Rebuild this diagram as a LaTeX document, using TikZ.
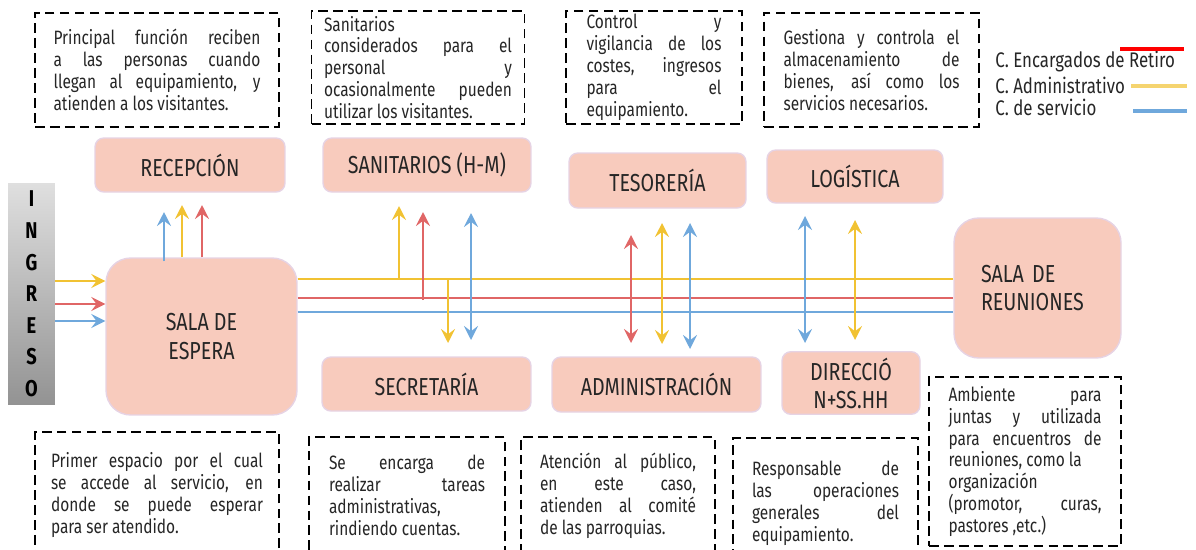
\documentclass[tikz,border=0pt]{standalone}
\usepackage{fontspec}
\setmainfont{Fira Sans}[FakeStretch=0.8]
\usepackage{xcolor}
\usepackage{tikz}
\usetikzlibrary{arrows.meta, positioning}
\definecolor{salmon}{HTML}{F8CBBD}
\definecolor{lila}{HTML}{E6D3E4}
\definecolor{ink}{HTML}{262626}
\definecolor{admin}{HTML}{F1C232}
\definecolor{retiro}{HTML}{E06666}
\definecolor{servicio}{HTML}{6FA8DC}
\tikzset{
  area/.style={draw=lila, line width=0.8pt, fill=salmon, rounded corners=5pt, text=ink, font=\fontsize{14}{16}\selectfont, align=center},
  bigarea/.style={area, rounded corners=14pt},
  note/.style={draw=black, dash pattern=on 5.5pt off 3pt, line width=1.1pt, text=ink, font=\fontsize{11}{12.5}\selectfont, inner sep=2pt, align=justify},
  adm/.style={draw=admin, line width=1.2pt},
  ret/.style={draw=retiro, line width=1.2pt},
  ser/.style={draw=servicio, line width=1.2pt},
}

\begin{document}
\begin{tikzpicture}[x=0.02cm, y=-0.02cm, >={Stealth[length=8pt,width=8pt,inset=3pt]}]
        \useasboundingbox (0,0) rectangle (1196,549);
        \clip (0,0) rectangle (1196,549);
        % descriptions (top)
        \node[note, minimum width=4.88cm, minimum height=2.28cm, text width=4.14cm] (drec) at (157,70) {Principal función reciben\linebreak a las personas cuando\linebreak llegan al equipamiento, y\linebreak atienden a los visitantes.};
        \node[note, minimum width=4.26cm, minimum height=2.26cm, text width=3.76cm] (dsan) at (418,67.5) {Sanitarios\\considerados para el\linebreak personal y\linebreak ocasionalmente pueden\linebreak utilizar los visitantes.};
        \node[note, minimum width=3.52cm, minimum height=2.26cm, text width=2.7cm] (dtes) at (654,67.5) {Control y\linebreak vigilancia de los\linebreak costes, ingresos\linebreak para el\linebreak equipamiento.};
        \node[note, minimum width=4.3cm, minimum height=2.28cm, text width=3.52cm] (dlog) at (871.5,70) {Gestiona y controla el\linebreak almacenamiento de\linebreak bienes, así como los\linebreak servicios necesarios.};
        % descriptions (bottom)
        \node[note, minimum width=4.88cm, minimum height=2.52cm, text width=4.24cm] (desp) at (157,495) {Primer espacio por el cual\linebreak se accede al servicio, en\linebreak donde se puede esperar\linebreak para ser atendido.};
        \node[note, minimum width=3.92cm, minimum height=2.34cm, text width=3.12cm] (dsec) at (407,495.5) {Se encarga de\linebreak realizar tareas\linebreak administrativas,\\rindiendo cuentas.};
        \node[note, minimum width=3.88cm, minimum height=2.34cm, text width=3.12cm] (dadm) at (618,495.5) {Atención al público,\linebreak en este caso,\linebreak atienden al comité\linebreak de las parroquias.};
        \node[note, minimum width=3.7cm, minimum height=2.62cm, text width=2.94cm] (ddir) at (825.5,503.5) {Responsable de\linebreak las operaciones\linebreak generales del\linebreak equipamiento.};
        \node[note, minimum width=3.84cm, minimum height=3.38cm, text width=3.06cm] (dreu) at (1025,461.5) {Ambiente para\linebreak juntas y utilizada\linebreak para encuentros de\linebreak reuniones, como la\\organización\\(promotor, curas,\linebreak pastores ,etc.)};
        % ambientes
        \node[area, minimum width=3.8cm, minimum height=1.08cm] (rec) at (190,165) {RECEPCIÓN};
        \node[area, minimum width=4.16cm, minimum height=1.08cm] (san) at (427,165) {SANITARIOS (H-M)};
        \node[area, minimum width=3.54cm, minimum height=1.1cm] (tes) at (657.5,180.5) {TESORERÍA};
        \node[area, minimum width=3.52cm, minimum height=1.06cm] (log) at (855,176.5) {LOGÍSTICA};
        \node[bigarea, minimum width=3.82cm, minimum height=3.14cm] (esp) at (201.5,336.5) {SALA DE\\ESPERA};
        \node[bigarea, minimum width=3.34cm, minimum height=2.8cm, text width=2.26cm, inner xsep=0.54cm, align=left] (reu) at (1037.5,288) {SALA DE\\REUNIONES};
        \node[area, minimum width=4.18cm, minimum height=1.08cm] (sec) at (426.5,384) {SECRETARÍA};
        \node[area, minimum width=4.18cm, minimum height=1.1cm] (adm) at (656.5,384.5) {ADMINISTRACIÓN};
        \node[area, minimum width=2.76cm, minimum height=1.16cm] (dir) at (851,383) {DIRECCIÓ\\N+SS.HH};
        \node[minimum width=0.94cm, minimum height=4.44cm, top color=gray!25, bottom color=gray!85, text=black, font=\fontsize{13}{18}\bfseries, align=center] (ing) at (31.5,294) {I\\N\\G\\R\\E\\S\\O};
        % ingreso
        \draw[adm, ->] (ing.east |- 0,281) -- (esp.west |- 0,281);
        \draw[ret, ->] (ing.east |- 0,304) -- (esp.west |- 0,304);
        \draw[ser, ->] (ing.east |- 0,321) -- (esp.west |- 0,321);
        % circulaciones
        \draw[adm] (esp.east |- 0,279) -- (reu.west |- 0,279);
        \draw[ret] (esp.east |- 0,298) -- (reu.west |- 0,298);
        \draw[ser] (esp.east |- 0,312) -- (reu.west |- 0,312);
        \foreach \n/\x/\y in {r1/164/212, r2/182/205, r3/202/205, s1/399/206, s2/423/212, s3/471/213, c1/448/343, c2/471/340,
                t1/631/235, t2/662/223, t3/690/223, a1/631/343, a2/662/344, a3/690/349, l1/805/216, l2/855/220, d1/805/343, d2/855/340}
            \coordinate (\n) at (\x,\y);
        \draw[ser, ->] (esp.north -| r1) ++(0,4) -- (r1);
        \draw[adm, ->] (esp.north -| r2) -- (r2);
        \draw[ret, ->] (esp.north -| r3) -- (r3);
        \draw[adm, ->] (s1 |- 0,279) -- (s1);
        \draw[ret, ->] (s2 |- 0,300) -- (s2);
        \draw[ser, <->] (s3) -- (c2);
        \draw[adm, ->] (c1 |- 0,279) -- (c1);
        \draw[ret, <->] (t1) -- (a1);
        \draw[adm, <->] (t2) -- (a2);
        \draw[ser, <->] (t3) -- (a3);
        \draw[ser, <->] (l1) -- (d1);
        \draw[adm, <->] (l2) -- (d2);
        % leyenda
        \node[anchor=west, text=ink, font=\fontsize{12}{14}\selectfont, inner sep=0pt] (lret) at (995,62) {C. Encargados de Retiro};
        \node[anchor=west, text=ink, font=\fontsize{12}{14}\selectfont, inner sep=0pt] (ladm) at (995,85) {C. Administrativo};
        \node[anchor=west, text=ink, font=\fontsize{12}{14}\selectfont, inner sep=0pt] (lser) at (995,107) {C. de servicio};
        \draw[red, line width=2pt] (1120,49) -- (1184,49);
        \draw[admin!70, line width=2pt] (1131,86) -- (1187,86);
        \draw[servicio, line width=2pt] (1133,111) -- (1187,111);
    \end{tikzpicture}
\end{document}
